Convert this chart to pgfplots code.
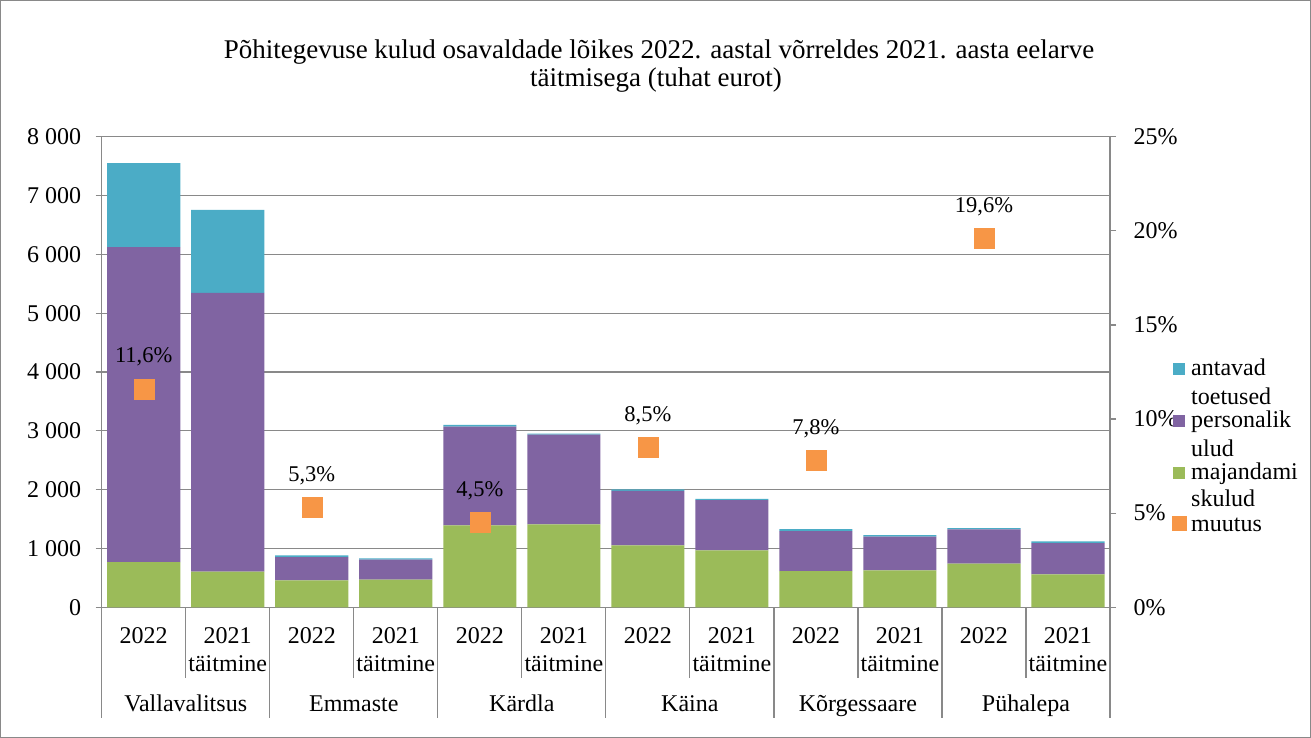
\documentclass[border=0pt]{standalone}
\usepackage{pgfplots}
\pgfplotsset{compat=1.18}
\usepackage{pgfplotstable}
\usepackage{fontspec}
\setmainfont{Liberation Serif}
\definecolor{cteal}{HTML}{4BACC6}
\definecolor{cpurple}{HTML}{8064A2}
\definecolor{cgreen}{HTML}{9BBB59}
\definecolor{corange}{HTML}{F79646}
\definecolor{cgrid}{HTML}{898989}
\pgfplotsset{/pgf/number format/assume math mode=true}

\pgfplotstableread{
x maj pers toet
0 769 5355 1426
1 606 4737 1414
2 458 396 29
3 470 340 22
4 1392 1681 28
5 1409 1528 17
6 1053 928 22
7 968 854 23
8 617 679 34
9 628 572 28
10 741 583 23
11 560 532 28
}\kulud

\pgfplotstableread{
x m
0 11.6
2 5.3
4 4.5
6 8.5
8 7.8
10 19.6
}\muutus

\newcommand{\chartfont}{\rmfamily\fontsize{24}{27.7}\selectfont}

\begin{document}
\begin{tikzpicture}
\draw[cgrid, line width=1.2pt] (0.6pt,0.6pt) rectangle (1310.4pt,737.4pt);
\node[anchor=base, font=\rmfamily\fontsize{27}{30}\selectfont] at (659pt,679.7pt) {Põhitegevuse kulud osavaldade lõikes 2022. aastal võrreldes 2021. aasta eelarve};
\node[anchor=base, font=\rmfamily\fontsize{27}{30}\selectfont] at (656pt,651.3pt) {täitmisega (tuhat eurot)};

\begin{axis}[
  at={(101.7pt,130.7pt)}, anchor=south west,
  scale only axis, width=1008.3pt, height=470.6pt,
  xmin=-0.5, xmax=11.5, ymin=0, ymax=8000,
  ybar stacked, bar width=0.87,
  axis x line*=bottom, axis y line*=left,
  axis line style={cgrid, line width=1.2pt},
  ytick={0,1000,...,8000}, scaled y ticks=false,
  ymajorgrids, major grid style={cgrid, line width=1.2pt},
  tick align=outside, major tick length=6pt,
  ytick style={cgrid, line width=1.2pt},
  yticklabel style={/pgf/number format/1000 sep={\ }, font=\chartfont, xshift=-11pt},
  xtick={0,...,11}, xtick style={draw=none},
  xticklabels={2022,{2021\\täitmine},2022,{2021\\täitmine},2022,{2021\\täitmine},2022,{2021\\täitmine},2022,{2021\\täitmine},2022,{2021\\täitmine}},
  xticklabel style={align=center, font=\chartfont, anchor=north, inner sep=0pt, yshift=-14pt},
  clip=false,
]
\addplot[fill=cgreen, draw=none] table[x=x,y=maj]{\kulud};
\addplot[fill=cpurple, draw=none] table[x=x,y=pers]{\kulud};
\addplot[fill=cteal, draw=none] table[x=x,y=toet]{\kulud};
\pgfplotsinvokeforeach{0.5,2.5,4.5,6.5,8.5,10.5}{
  \draw[cgrid, line width=1.2pt] (axis cs:#1,0) -- ++(0pt,-70.7pt);
}
\pgfplotsinvokeforeach{-0.5,1.5,3.5,5.5,7.5,9.5,11.5}{
  \draw[cgrid, line width=1.2pt] (axis cs:#1,0) -- ++(0pt,-110.7pt);
}
\node[anchor=base, font=\chartfont, yshift=-104.4pt] at (axis cs:0.5,0) {Vallavalitsus};
\node[anchor=base, font=\chartfont, yshift=-104.4pt] at (axis cs:2.5,0) {Emmaste};
\node[anchor=base, font=\chartfont, yshift=-104.4pt] at (axis cs:4.5,0) {Kärdla};
\node[anchor=base, font=\chartfont, yshift=-104.4pt] at (axis cs:6.5,0) {Käina};
\node[anchor=base, font=\chartfont, yshift=-104.4pt] at (axis cs:8.5,0) {Kõrgessaare};
\node[anchor=base, font=\chartfont, yshift=-104.4pt] at (axis cs:10.5,0) {Pühalepa};
\end{axis}

\begin{axis}[
  at={(101.7pt,130.7pt)}, anchor=south west,
  scale only axis, width=1008.3pt, height=470.6pt,
  xmin=-0.5, xmax=11.5, ymin=0, ymax=25,
  axis y line*=right, axis x line=none, xtick=\empty,
  axis line style={cgrid, line width=1.2pt},
  ytick={0,5,...,25},
  yticklabel={\pgfmathprintnumber{\tick}\%},
  tick align=outside, major tick length=6pt,
  ytick style={cgrid, line width=1.2pt},
  yticklabel style={font=\chartfont, xshift=14pt},
  clip=false,
]
\addplot[only marks, mark=square*, mark size=10pt, color=corange, point meta=y,
  nodes near coords={\pgfmathprintnumber[fixed,fixed zerofill,precision=1,use comma]{\pgfplotspointmeta}\%},
  nodes near coords style={anchor=base, yshift=26pt, text=black, font=\rmfamily\fontsize{22.5}{26}\selectfont}]
  table[x=x,y=m]{\muutus};
\end{axis}

% legend
\fill[cteal] (1173pt,363pt) rectangle (1185pt,375pt);
\fill[cpurple] (1173pt,311.3pt) rectangle (1185pt,323.3pt);
\fill[cgreen] (1173pt,258.7pt) rectangle (1185pt,270.7pt);
\fill[corange] (1171.5pt,207.2pt) rectangle (1186.5pt,222.2pt);
\begin{scope}[every node/.style={anchor=base west, font=\chartfont, inner sep=0pt}]
\node at (1191pt,362pt) {antavad};
\node at (1191pt,333.7pt) {toetused};
\node at (1191pt,310pt) {personalik};
\node at (1191pt,281.3pt) {ulud};
\node at (1191pt,258pt) {majandami};
\node at (1191pt,231.3pt) {skulud};
\node at (1191pt,206.3pt) {muutus};
\end{scope}
\end{tikzpicture}
\end{document}
